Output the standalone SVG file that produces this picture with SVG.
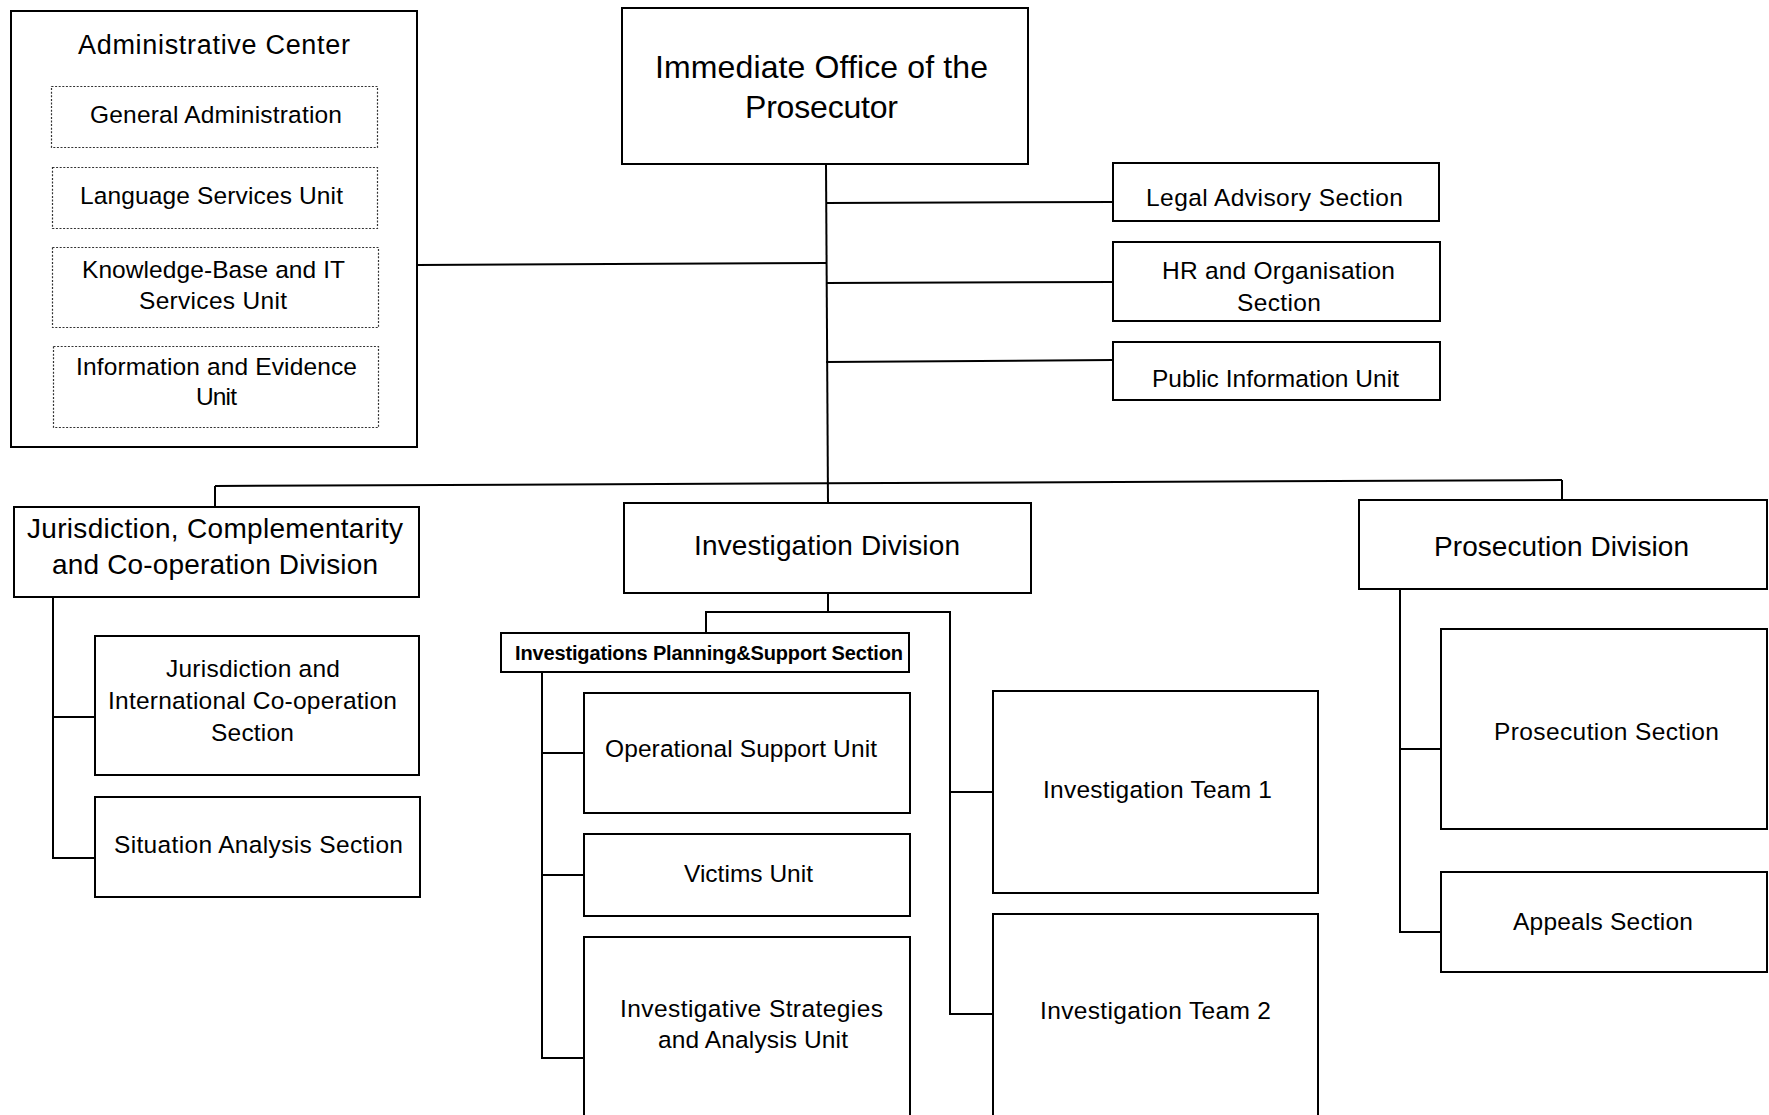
<svg xmlns="http://www.w3.org/2000/svg" width="1769" height="1115" viewBox="0 0 1769 1115">
<style>
.box{fill:#fff;stroke:#000;stroke-width:2}
.dot{fill:#fff;stroke:#333;stroke-width:1.2;stroke-dasharray:2 1.6}
.t{font-family:"Liberation Sans",Arial,sans-serif;font-size:24.5px;text-anchor:middle;fill:#000}
.d{font-size:28px}
.big{font-size:32px}
.b{font-size:20px;font-weight:bold}
#connectors line{stroke:#000;stroke-width:2;fill:none}
</style>
<rect width="1769" height="1115" fill="#fff"/>
<g id="connectors">
<line x1="826" y1="164" x2="828" y2="503"/>
<line x1="417" y1="265" x2="826" y2="263"/>
<line x1="826" y1="203" x2="1113" y2="202"/>
<line x1="826" y1="283" x2="1113" y2="282"/>
<line x1="826" y1="362" x2="1113" y2="360"/>
<line x1="215" y1="486" x2="1562" y2="480"/>
<line x1="215" y1="486" x2="215" y2="507"/>
<line x1="1562" y1="480" x2="1562" y2="500"/>
<line x1="53" y1="597" x2="53" y2="859"/>
<line x1="53" y1="717" x2="95" y2="717"/>
<line x1="52" y1="858" x2="95" y2="858"/>
<line x1="828" y1="593" x2="828" y2="612"/>
<line x1="705" y1="612" x2="951" y2="612"/>
<line x1="706" y1="612" x2="706" y2="633"/>
<line x1="950" y1="612" x2="950" y2="1015"/>
<line x1="950" y1="792" x2="993" y2="792"/>
<line x1="949" y1="1014" x2="993" y2="1014"/>
<line x1="542" y1="672" x2="542" y2="1059"/>
<line x1="542" y1="753" x2="584" y2="753"/>
<line x1="542" y1="875" x2="584" y2="875"/>
<line x1="541" y1="1058" x2="584" y2="1058"/>
<line x1="1400" y1="589" x2="1400" y2="933"/>
<line x1="1400" y1="749" x2="1441" y2="749"/>
<line x1="1399" y1="932" x2="1441" y2="932"/>
</g>
<g id="admin-center">
<rect class="box" x="11" y="11" width="406" height="436"/>
<text class="t" x="214" y="54" style="font-size:27px" textLength="272" lengthAdjust="spacing">Administrative Center</text>
</g>
<g id="general-administration">
<rect class="dot" x="51.5" y="86.5" width="326" height="61"/>
<text class="t" x="216" y="123" textLength="252" lengthAdjust="spacing">General Administration</text>
</g>
<g id="language-services">
<rect class="dot" x="52.5" y="167.5" width="325" height="61"/>
<text class="t" x="211.5" y="204" textLength="263" lengthAdjust="spacing">Language Services Unit</text>
</g>
<g id="knowledge-base">
<rect class="dot" x="52.5" y="247.5" width="326" height="80"/>
<text class="t" x="213.5" y="278" textLength="263" lengthAdjust="spacing">Knowledge-Base and IT</text>
<text class="t" x="213" y="309" textLength="148" lengthAdjust="spacing">Services Unit</text>
</g>
<g id="information-evidence">
<rect class="dot" x="53.5" y="346.5" width="325" height="81"/>
<text class="t" x="216.5" y="375" textLength="281" lengthAdjust="spacing">Information and Evidence</text>
<text class="t" x="216.5" y="405" textLength="41" lengthAdjust="spacing">Unit</text>
</g>
<g id="immediate-office">
<rect class="box" x="622" y="8" width="406" height="156"/>
<text class="t big" x="821.5" y="78" textLength="333" lengthAdjust="spacing">Immediate Office of the</text>
<text class="t big" x="821.5" y="118" textLength="153" lengthAdjust="spacing">Prosecutor</text>
</g>
<g id="legal-advisory">
<rect class="box" x="1113" y="163" width="326" height="58"/>
<text class="t" x="1274.5" y="206" textLength="257" lengthAdjust="spacing">Legal Advisory Section</text>
</g>
<g id="hr-organisation">
<rect class="box" x="1113" y="242" width="327" height="79"/>
<text class="t" x="1278.5" y="279" textLength="233" lengthAdjust="spacing">HR and Organisation</text>
<text class="t" x="1279" y="311" textLength="84" lengthAdjust="spacing">Section</text>
</g>
<g id="public-information">
<rect class="box" x="1113" y="342" width="327" height="58"/>
<text class="t" x="1275.5" y="387" textLength="247" lengthAdjust="spacing">Public Information Unit</text>
</g>
<g id="jurisdiction-division">
<rect class="box" x="14" y="507" width="405" height="90"/>
<text class="t d" x="215" y="538" textLength="376" lengthAdjust="spacing">Jurisdiction, Complementarity</text>
<text class="t d" x="215" y="574" textLength="326" lengthAdjust="spacing">and Co-operation Division</text>
</g>
<g id="jurisdiction-cooperation-section">
<rect class="box" x="95" y="636" width="324" height="139"/>
<text class="t" x="253" y="677" textLength="174" lengthAdjust="spacing">Jurisdiction and</text>
<text class="t" x="252.5" y="709" textLength="289" lengthAdjust="spacing">International Co-operation</text>
<text class="t" x="252.5" y="741" textLength="83" lengthAdjust="spacing">Section</text>
</g>
<g id="situation-analysis">
<rect class="box" x="95" y="797" width="325" height="100"/>
<text class="t" x="258.5" y="853" textLength="289" lengthAdjust="spacing">Situation Analysis Section</text>
</g>
<g id="investigation-division">
<rect class="box" x="624" y="503" width="407" height="90"/>
<text class="t d" x="827" y="555" textLength="266" lengthAdjust="spacing">Investigation Division</text>
</g>
<g id="planning-support">
<rect class="box" x="501" y="633" width="408" height="39"/>
<text class="t b" x="709" y="660" textLength="388" lengthAdjust="spacing">Investigations Planning&amp;Support Section</text>
</g>
<g id="operational-support">
<rect class="box" x="584" y="693" width="326" height="120"/>
<text class="t" x="741" y="757" textLength="272" lengthAdjust="spacing">Operational Support Unit</text>
</g>
<g id="victims-unit">
<rect class="box" x="584" y="834" width="326" height="82"/>
<text class="t" x="748.5" y="882" textLength="129" lengthAdjust="spacing">Victims Unit</text>
</g>
<g id="strategies-analysis">
<rect class="box" x="584" y="937" width="326" height="200"/>
<text class="t" x="751.5" y="1017" textLength="263" lengthAdjust="spacing">Investigative Strategies</text>
<text class="t" x="753" y="1048" textLength="190" lengthAdjust="spacing">and Analysis Unit</text>
</g>
<g id="team-1">
<rect class="box" x="993" y="691" width="325" height="202"/>
<text class="t" x="1157.5" y="798" textLength="229" lengthAdjust="spacing">Investigation Team 1</text>
</g>
<g id="team-2">
<rect class="box" x="993" y="914" width="325" height="220"/>
<text class="t" x="1155.5" y="1019" textLength="231" lengthAdjust="spacing">Investigation Team 2</text>
</g>
<g id="prosecution-division">
<rect class="box" x="1359" y="500" width="408" height="89"/>
<text class="t d" x="1561.5" y="556" textLength="255" lengthAdjust="spacing">Prosecution Division</text>
</g>
<g id="prosecution-section">
<rect class="box" x="1441" y="629" width="326" height="200"/>
<text class="t" x="1606.5" y="740" textLength="225" lengthAdjust="spacing">Prosecution Section</text>
</g>
<g id="appeals-section">
<rect class="box" x="1441" y="872" width="326" height="100"/>
<text class="t" x="1603" y="930" textLength="180" lengthAdjust="spacing">Appeals Section</text>
</g>
</svg>
